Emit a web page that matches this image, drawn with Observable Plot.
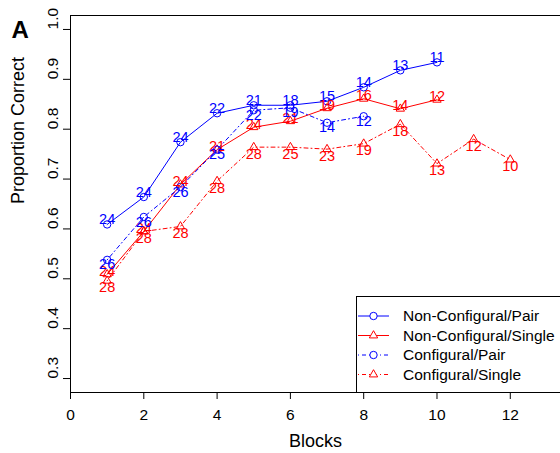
<!DOCTYPE html>
<html>
<head>
<meta charset="utf-8">
<script src="https://cdn.jsdelivr.net/npm/d3@7"></script>
<script src="https://cdn.jsdelivr.net/npm/@observablehq/plot@0.6"></script>
<style>
  html, body { margin: 0; padding: 0; background: #fff; }
  #chart svg { display: block; }
</style>
</head>
<body>
<div id="chart"></div>
<script>
// ---- Data ----
const seriesNames = ["Non-Configural/Pair", "Non-Configural/Single", "Configural/Pair", "Configural/Single"];

const ncPairBlocks = [1, 2, 3, 4, 5, 6, 7, 8, 9, 10];
const ncPairValues = [0.609, 0.664, 0.774, 0.832, 0.848, 0.848, 0.856, 0.884, 0.918, 0.934];
const ncPairN      = [24, 24, 24, 22, 21, 18, 15, 14, 13, 11];

const ncSingleBlocks = [1, 2, 3, 4, 5, 6, 7, 8, 9, 10];
const ncSingleValues = [0.509, 0.595, 0.689, 0.759, 0.804, 0.816, 0.842, 0.861, 0.841, 0.859];
const ncSingleN      = [24, 24, 24, 21, 24, 21, 19, 16, 14, 12];

const cPairBlocks = [1, 2, 3, 4, 5, 6, 7, 8];
const cPairValues = [0.538, 0.624, 0.684, 0.759, 0.838, 0.843, 0.813, 0.826];
const cPairN      = [26, 26, 26, 25, 22, 19, 14, 12];

const cSingleBlocks = [1, 2, 3, 4, 5, 6, 7, 8, 9, 10, 11, 12];
const cSingleValues = [0.496, 0.595, 0.605, 0.696, 0.764, 0.764, 0.760, 0.771, 0.810, 0.731, 0.780, 0.739];
const cSingleN      = [28, 28, 28, 28, 28, 25, 23, 19, 18, 13, 12, 10];

const xTicks = [0, 2, 4, 6, 8, 10, 12];
const yTicks = [0.3, 0.4, 0.5, 0.6, 0.7, 0.8, 0.9, 1.0];
const xDomain = [0, 13.37];
const yDomain = [0.272, 1.028];

// ---- Styles ----
const styles = {
  "Non-Configural/Pair":   {color: "blue", dash: null,      symbol: "circle",   r: 3.7, labelDy: -5},
  "Non-Configural/Single": {color: "red",  dash: null,      symbol: "triangle", r: 3.1, labelDy: -3},
  "Configural/Pair":       {color: "blue", dash: "1,3,4,3", symbol: "circle",   r: 3.7, labelDy: 5},
  "Configural/Single":     {color: "red",  dash: "1,3,4,3", symbol: "triangle", r: 3.1, labelDy: 7}
};

function makeRows(name, blocks, values, ns) {
  return blocks.map((b, i) => ({series: name, block: b, value: values[i], n: ns[i]}));
}
const seriesData = {
  "Non-Configural/Pair": makeRows("Non-Configural/Pair", ncPairBlocks, ncPairValues, ncPairN),
  "Non-Configural/Single": makeRows("Non-Configural/Single", ncSingleBlocks, ncSingleValues, ncSingleN),
  "Configural/Pair": makeRows("Configural/Pair", cPairBlocks, cPairValues, cPairN),
  "Configural/Single": makeRows("Configural/Single", cSingleBlocks, cSingleValues, cSingleN)
};

const dataMarks = [];
for (const name of seriesNames) {
  const s = styles[name];
  const rows = seriesData[name];
  dataMarks.push(Plot.line(rows, {x: "block", y: "value", stroke: s.color, strokeWidth: 1, strokeDasharray: s.dash ?? undefined}));
  dataMarks.push(Plot.dot(rows, {x: "block", y: "value", stroke: s.color, fill: "none", symbol: s.symbol, r: s.r, strokeWidth: 1}));
}
for (const name of seriesNames) {
  const s = styles[name];
  dataMarks.push(Plot.text(seriesData[name], {x: "block", y: "value", text: d => String(d.n), fill: s.color, fontSize: 14.5, dy: s.labelDy}));
}

const chart = Plot.plot({
  width: 560,
  height: 453,
  marginLeft: 70,
  marginTop: 15,
  marginBottom: 61,
  marginRight: 0,
  style: {fontFamily: "'Liberation Sans', Arial, sans-serif", background: "white", color: "black", fontSize: "15.5px"},
  x: {domain: xDomain},
  y: {domain: yDomain},
  marks: [
    // box (left, top, bottom)
    Plot.ruleX([xDomain[0]], {stroke: "black", strokeWidth: 1}),
    Plot.ruleY(yDomain, {stroke: "black", strokeWidth: 1}),
    Plot.axisX({ticks: xTicks, tickSize: 7, tickPadding: 9, fontSize: 15.5, tickFormat: d => String(d), label: null}),
    Plot.axisY({ticks: yTicks, tickSize: 7, tickFormat: () => "", label: null}),
    Plot.text(yTicks, {y: d => d, text: d => d.toFixed(1), frameAnchor: "left", dx: -17, rotate: -90, fontSize: 15.5, fill: "black"}),
    Plot.text(["Proportion Correct"], {text: d => d, frameAnchor: "left", dx: -52, rotate: -90, fontSize: 18, fill: "black"}),
    Plot.text(["Blocks"], {text: d => d, frameAnchor: "bottom", dy: 54, fontSize: 18, fill: "black"}),
    Plot.text(["A"], {text: d => d, frameAnchor: "top-left", dx: -59, dy: 5, textAnchor: "start", fontSize: 24, fontWeight: "bold", fill: "black"}),
    ...dataMarks
  ]
});
document.getElementById("chart").appendChild(chart);

// ---- Legend (drawn into the plot's SVG, bottom-right inside the box) ----
const legendBox = {left: 356.5, top: 296.5, bottom: 392.5, rowY: [316, 335.5, 355, 374.5], lineX1: 358, lineX2: 389, markX: 373.5, textX: 403};
const svg = d3.select(chart);
const lg = svg.append("g")
  .attr("font-family", "'Liberation Sans', Arial, sans-serif")
  .attr("text-anchor", "start");
lg.append("rect")
  .attr("x", legendBox.left).attr("y", legendBox.top)
  .attr("width", 600 - legendBox.left).attr("height", legendBox.bottom - legendBox.top)
  .attr("fill", "white").attr("stroke", "black").attr("stroke-width", 1);
seriesNames.forEach((name, i) => {
  const s = styles[name];
  const y = legendBox.rowY[i];
  const line = lg.append("line")
    .attr("x1", legendBox.lineX1).attr("x2", legendBox.lineX2)
    .attr("y1", y).attr("y2", y)
    .attr("stroke", s.color).attr("stroke-width", 1);
  if (s.dash) line.attr("stroke-dasharray", s.dash);
  const sym = s.symbol === "circle" ? d3.symbolCircle : d3.symbolTriangle;
  lg.append("path")
    .attr("d", d3.symbol(sym, Math.PI * s.r * s.r)())
    .attr("transform", `translate(${legendBox.markX},${y})`)
    .attr("fill", "white").attr("stroke", s.color).attr("stroke-width", 1);
  lg.append("text")
    .attr("x", legendBox.textX).attr("y", y).attr("dy", "0.35em")
    .attr("text-anchor", "start")
    .attr("font-size", 15.5).attr("fill", "black")
    .text(name);
});
</script>
</body>
</html>
